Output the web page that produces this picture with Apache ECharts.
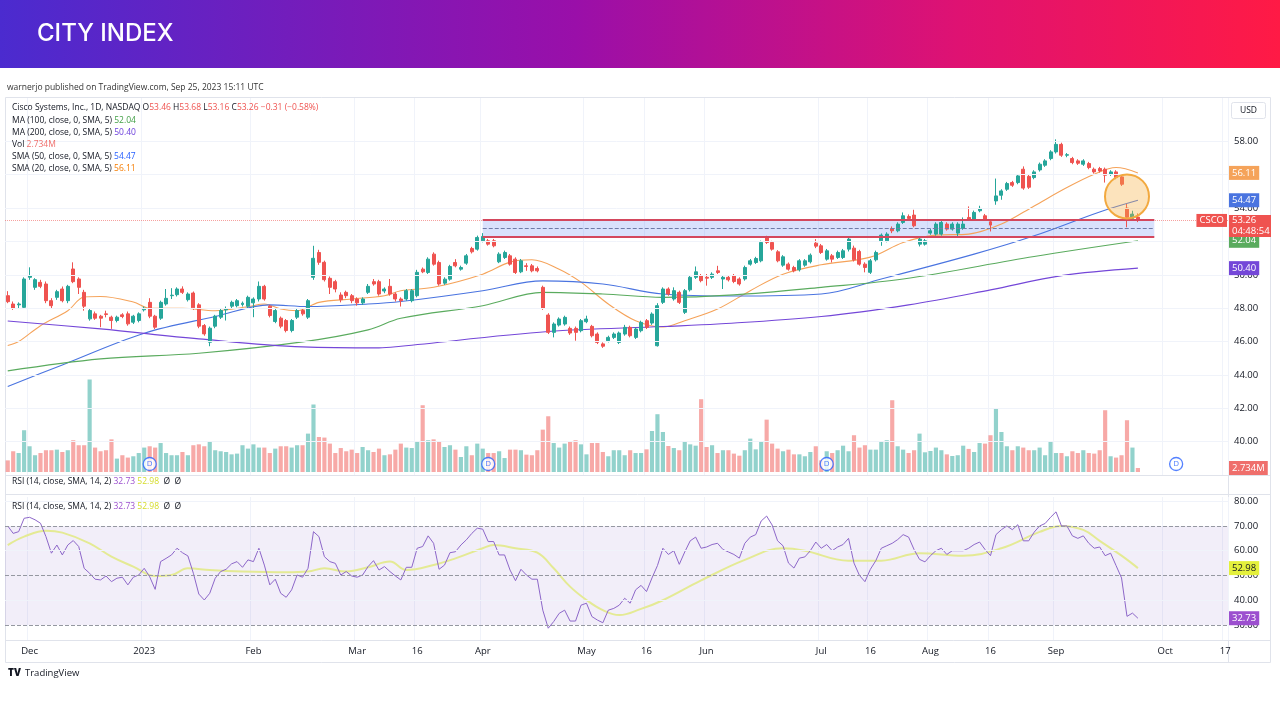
<!DOCTYPE html>
<html>
<head>
<meta charset="utf-8">
<title>CSCO 1D</title>
<style>
html, body { margin: 0; padding: 0; background: #fff; }
#chart { width: 1280px; height: 720px; }
</style>
</head>
<body>
<div id="chart"></div>
<script src="https://cdn.jsdelivr.net/npm/echarts@6/dist/echarts.min.js"></script>
<script>
// trading calendar (NYSE days, incl. the empty future slots on the right)
const firstDay = '2022-11-25';
const lastDay = '2023-10-17';
const holidays = ['2022-12-26', '2023-01-02', '2023-01-16', '2023-02-20', '2023-04-07',
  '2023-05-29', '2023-06-19', '2023-07-04', '2023-09-04'];

// time axis labels
const tickLabels = [['2022-12-01', 'Dec'], ['2023-01-03', '2023'], ['2023-02-01', 'Feb'], ['2023-03-01', 'Mar'],
  ['2023-03-16', '16'], ['2023-04-03', 'Apr'], ['2023-05-01', 'May'], ['2023-05-16', '16'], ['2023-06-01', 'Jun'],
  ['2023-07-03', 'Jul'], ['2023-07-17', '16'], ['2023-08-01', 'Aug'], ['2023-08-16', '16'], ['2023-09-01', 'Sep'],
  ['2023-10-02', 'Oct'], ['2023-10-17', '17']];
const priceLevels = [40, 42, 44, 46, 48, 50, 52, 54, 56, 58];

// daily candles [open, close, low, high]
const ohlc = [
  [48.75,48.39,48.30,49.02],[48.25,47.99,47.90,48.40],[48.20,48.25,47.95,48.35],[48.05,49.75,47.95,49.85],
  [49.85,49.95,49.70,50.45],[49.25,49.71,49.10,49.80],[49.55,49.31,49.20,49.70],[49.45,48.45,48.30,49.60],
  [48.45,48.15,48.00,48.60],[48.65,48.99,48.50,49.10],[49.15,48.45,48.35,49.30],[48.45,49.31,48.30,49.40],
  [50.35,49.59,49.50,50.75],[49.75,49.25,48.85,49.85],[48.95,48.12,47.85,49.10],[47.36,47.86,47.25,48.00],
  [47.66,47.40,47.30,47.80],[47.52,47.40,46.86,47.60],[47.66,47.62,47.45,47.85],[47.46,47.26,46.76,47.55],
  [47.26,47.46,47.15,47.55],[47.60,47.50,47.40,47.70],[47.66,47.06,46.95,47.80],[47.16,47.52,47.05,47.60],
  [47.26,47.66,47.15,47.75],[47.90,48.00,47.80,48.10],[48.35,47.52,47.40,48.60],[47.52,46.86,46.75,47.60],
  [47.40,48.35,47.30,48.45],[48.25,48.59,48.15,49.15],[48.75,48.78,48.55,49.20],[48.81,49.15,48.70,49.25],
  [49.15,48.95,48.85,49.31],[48.51,48.85,48.40,48.95],[48.91,48.02,47.90,49.00],[48.20,46.92,46.80,48.30],
  [46.96,46.46,46.35,47.05],[45.96,46.80,45.72,46.90],[46.92,47.52,46.80,47.60],[47.46,47.86,47.35,47.95],
  [47.90,47.98,47.26,48.10],[48.12,48.35,48.00,48.45],[48.15,48.45,48.05,48.55],[48.22,48.30,48.10,48.40],
  [48.12,48.65,48.00,48.75],[48.32,48.55,47.46,48.65],[48.55,49.31,48.40,49.60],[49.31,48.55,48.45,49.40],
  [48.12,47.56,47.45,48.20],[47.20,47.86,47.10,47.95],[47.40,46.92,46.80,47.50],[47.26,46.66,46.55,47.35],
  [46.66,47.26,46.55,47.35],[47.46,47.86,47.35,47.95],[47.86,47.66,47.55,47.95],[47.46,48.45,47.35,48.55],
  [49.85,50.99,49.70,51.74],[51.34,50.75,50.60,51.50],[50.75,49.71,49.60,50.85],[49.79,49.25,48.85,49.90],
  [49.59,49.15,48.95,49.70],[48.79,48.51,48.35,48.95],[48.95,48.75,48.60,49.05],[48.75,48.45,48.30,48.85],
  [48.55,48.32,48.15,48.65],[48.32,48.55,48.20,48.65],[48.95,49.31,48.85,49.45],[49.59,49.45,49.35,49.75],
  [49.59,48.85,48.75,49.70],[49.03,49.15,48.90,49.25],[49.31,48.85,48.75,49.75],[48.85,48.55,48.40,48.95],
  [48.55,48.45,48.10,48.65],[48.55,49.05,48.45,49.15],[48.45,49.05,48.35,49.15],[48.75,50.15,48.65,50.30],
  [50.34,50.18,50.10,50.44],[50.14,50.94,50.05,51.05],[51.24,50.64,50.55,51.35],[50.74,49.45,49.35,50.85],
  [49.50,49.74,49.40,49.85],[49.74,50.50,49.65,50.60],[50.74,50.54,50.45,50.94],[50.34,50.44,50.25,50.55],
  [50.70,51.14,50.60,51.25],[51.58,51.38,51.28,51.68],[51.54,52.24,51.45,52.35],[52.04,52.30,51.95,52.50],
  [52.04,51.84,51.75,52.15],[52.04,51.74,51.65,52.15],[50.78,51.24,50.70,51.35],[51.04,51.34,50.95,51.45],
  [51.14,50.64,50.55,51.25],[50.94,50.14,50.05,51.05],[50.18,50.84,50.10,50.95],[50.54,50.50,50.24,50.70],
  [50.54,50.24,50.15,50.65],[50.38,50.24,50.15,50.50],[49.25,47.99,47.90,49.35],[47.59,46.55,46.45,47.70],
  [46.55,47.05,46.25,47.15],[46.99,47.35,46.90,47.45],[47.05,47.45,46.95,47.55],[46.79,46.51,46.40,46.90],
  [46.79,46.55,46.05,46.90],[46.65,47.25,46.55,47.35],[47.19,47.35,47.10,47.55],[46.91,46.35,46.25,47.00],
  [46.45,45.95,45.85,46.55],[45.86,45.72,45.62,45.95],[46.05,46.25,45.95,46.35],[46.25,46.45,46.15,46.55],
  [45.95,46.51,45.85,46.60],[46.45,46.85,46.35,47.00],[46.85,46.35,46.25,46.95],[46.25,46.75,46.15,46.85],
  [46.65,47.15,46.55,47.25],[47.25,46.85,46.75,47.35],[47.11,47.65,47.00,47.75],[45.75,48.15,45.70,48.30],
  [48.35,49.15,48.25,49.25],[49.15,48.85,48.75,49.25],[48.55,49.05,48.45,49.25],[48.95,48.35,48.25,49.05],
  [47.75,49.05,47.65,49.15],[49.10,49.85,49.00,49.95],[49.85,50.18,49.75,50.50],[49.95,49.65,49.55,50.05],
  [49.85,49.80,49.35,50.05],[49.85,50.04,49.75,50.15],[50.24,50.14,50.05,50.54],[49.75,49.85,49.15,49.95],
  [49.85,49.70,49.60,49.95],[49.95,49.60,49.50,50.05],[49.75,49.45,49.35,49.85],[49.75,50.44,49.65,50.55],
  [50.64,50.84,50.55,50.95],[50.74,50.98,50.65,51.08],[50.84,51.94,50.75,52.05],[52.24,51.94,51.85,52.34],
  [51.94,51.54,51.45,52.04],[51.38,50.84,50.75,51.48],[50.58,51.08,50.48,51.18],[50.64,50.34,50.25,50.74],
  [50.44,50.24,50.15,50.54],[50.30,50.84,50.20,50.94],[50.58,50.84,50.48,50.94],[50.78,51.18,50.68,51.28],
  [51.90,51.72,51.60,52.14],[51.74,51.34,51.25,51.85],[50.94,51.44,50.85,51.55],[51.14,50.94,50.74,51.25],
  [51.04,51.34,50.95,51.45],[51.04,51.44,50.95,51.55],[51.54,52.14,51.40,52.25],[51.60,50.90,50.80,51.75],
  [51.40,50.64,50.55,51.50],[50.64,50.44,50.15,50.75],[50.15,50.84,50.05,50.95],[50.90,51.34,50.80,51.45],
  [52.04,52.38,51.74,52.48],[52.04,52.44,51.95,52.55],[52.78,52.64,52.50,52.90],[52.64,53.04,52.55,53.15],
  [53.14,53.54,53.05,53.74],[53.50,53.38,53.28,53.62],[53.58,52.94,52.85,53.90],[51.84,52.14,51.70,52.30],
  [51.84,52.04,51.75,52.15],[52.50,52.64,52.40,52.75],[52.44,53.04,52.35,53.15],[52.44,53.14,52.35,53.25],
  [53.04,52.74,52.65,53.15],[52.74,53.04,52.65,53.15],[52.50,53.04,52.30,53.15],[52.78,53.04,52.70,53.44],
  [53.44,53.34,53.25,54.10],[53.34,53.74,53.25,53.85],[53.84,53.98,53.75,54.14],[53.54,53.34,53.25,53.65],
  [53.18,52.98,52.60,53.28],[54.43,54.73,54.20,55.77],[54.77,55.03,54.50,55.13],[55.13,55.47,55.03,55.57],
  [55.53,55.37,55.27,55.63],[55.53,55.93,55.43,56.03],[56.33,55.20,55.10,56.50],[55.90,55.25,55.15,56.00],
  [55.83,56.17,55.73,56.27],[56.29,56.63,56.19,56.73],[56.57,56.83,56.47,56.93],[56.97,57.37,56.87,57.47],
  [57.37,57.82,57.27,58.12],[57.82,57.17,57.07,57.92],[57.17,57.20,57.05,57.30],[56.97,56.73,56.63,57.07],
  [56.83,56.69,56.59,56.93],[56.63,56.83,56.53,56.93],[56.67,56.43,56.33,56.77],[56.33,56.17,56.07,56.43],
  [56.37,56.23,56.13,56.47],[56.33,55.97,55.53,56.43],[56.03,56.17,55.93,56.27],[56.17,55.83,55.73,56.27],
  [55.87,55.43,55.33,55.97],[54.00,53.45,52.85,54.25],[53.38,53.64,53.30,53.84],[53.46,53.26,53.16,53.68]
];

// volume, millions
const volumes = [
  7.9,14.1,12.9,28.4,17.5,11.4,12.9,14.8,14.8,15.2, 13.6,14.8,21.6,18.2,18.2,62.9,16.6,14.1,14.8,22.2,
  9.1,11.4,9.8,10.7,12.9,16.6,17.5,16.6,19.7,12.9, 11.4,11.4,13.6,11.4,18.2,18.8,17.5,20.9,14.8,14.1,
  13.6,12.0,12.5,18.2,15.9,18.8,16.6,16.6,12.9,15.9, 17.5,17.5,16.6,18.2,18.2,26.1,45.9,23.8,23.4,19.3,
  12.9,16.3,14.1,15.2,12.9,17.0,14.8,13.6,15.9,11.4, 12.0,15.2,19.3,16.6,16.3,20.4,45.4,21.6,22.2,20.9,
  17.0,18.2,15.2,10.2,17.5,11.4,19.3,15.9,12.9,12.9, 14.1,9.5,15.2,15.2,14.8,11.8,11.4,14.8,28.8,37.9,
  19.7,16.6,19.3,21.1,21.6,18.8,12.0,19.7,19.7,13.6, 10.7,14.8,14.8,11.4,14.8,12.9,
  12.9,15.4,27.9,39.3,27.2,17.7,16.3,14.8,20.9,18.8, 17.9,49.5,17.0,18.2,12.9,14.8,14.8,12.5,11.1,14.8,
  22.7,15.4,21.1,35.6,19.3,15.9,14.1,15.2,12.0,12.0, 10.7,13.6,17.5,7.9,14.1,12.9,14.8,17.9,14.1,25.0,
  16.6,18.2,15.2,15.2,20.9,21.6,48.8,17.5,15.2,12.9, 14.8,26.1,13.4,14.3,16.6,14.8,12.0,10.9,11.4,17.9,
  15.7,13.6,19.7,19.3,25.0,43.1,27.2,17.5,14.8,17.5, 16.6,14.8,14.8,16.6,11.4,21.1,12.9,12.9,10.7,14.1,
  12.9,14.8,12.9,12.5,14.8,42.0,10.7,9.8,11.4,35.2, 16.6,2.734
];

// moving averages, [bar index, value]
const sma20Pts = [[0,45.76],[2,46.0],[6,46.95],[11,47.85],[14,48.67],[17,48.7],[23,48.37],[26,48.0],[32,48.0],
  [38,47.85],[44,48.09],[47,48.25],[50,47.95],[53,47.85],[57,48.35],[63,48.55],[69,48.75],[72,49.05],[78,49.25],
  [87,50.04],[92,50.76],[96,50.9],[101,50.34],[105,49.56],[110,48.25],[115,47.25],[120,46.87],[124,47.25],
  [130,47.95],[136,49.05],[142,50.04],[149,50.6],[158,51.06],[164,51.94],[170,52.38],[176,52.44],[182,53.04],
  [188,54.13],[194,55.23],[199,56.03],[203,56.43],[207,56.11]];
const sma50Pts = [[0,43.3],[10,44.6],[25,46.5],[38,47.5],[48,48.2],[55,48.1],[66,48.25],[72,48.4],[87,49.05],
  [98,49.64],[109,49.45],[120,48.85],[133,48.73],[149,48.85],[160,49.75],[177,51.24],[188,52.34],[200,53.77],
  [207,54.47]];
const ma100Pts = [[0,44.24],[17,44.96],[35,45.3],[54,45.98],[66,46.7],[72,47.4],[87,48.15],[98,48.95],[109,48.85],
  [120,48.65],[133,48.8],[149,49.25],[164,49.75],[188,51.1],[207,52.04]];
const ma200Pts = [[0,47.23],[17,46.76],[35,46.16],[54,45.68],[68,45.62],[72,45.72],[99,46.6],[120,46.9],
  [130,47.05],[149,47.5],[165,48.2],[180,49.1],[193,49.95],[207,50.4]];

// RSI(14) per bar and its SMA(14)
const rsi = [
  70,67,67.7,73.1,73.5,72.5,71.1,65.7,59.0,62.3, 58.3,62.3,64.1,61.7,52.9,50.9,48.5,48.2,49.8,47.5,
  48.9,49.3,46.2,49.3,50.2,52.9,49.5,44.4,55.6,56.9, 58.3,61.0,59.2,57.9,50.9,42.5,40.1,42.8,48.9,51.6,
  52.5,54.7,55.6,53.3,56.3,55.6,61.0,54.2,46.2,48.5, 42.8,41.2,44.2,50.2,49.3,52.9,67.7,65.7,57.6,55.6,
  54.9,50.2,51.6,49.8,49.3,50.2,53.6,56.0,52.2,53.6, 51.6,49.8,48.2,53.3,53.3,61.0,61.7,66.0,63.0,52.5,
  54.2,59.2,59.6,62.3,64.4,67.0,69.1,68.7,63.7,63.7, 58.3,58.3,52.2,47.9,52.5,50.2,48.5,48.5,36,28.7,
  31.4,34.7,36.0,31.6,31.6,38.0,38.8,33.4,32.0,30.9, 36.0,36.7,38.0,40.8,38.8,44.2,
  46,43.5,49,54,61,58.5,60,54.5,59.5,64, 65.5,61,61.5,62.5,63,60.5,59.5,58.5,57,63,
  65.5,66.5,72,74,70.4,64,62,55,53,57, 57.5,60,63.5,61,62.5,60,61.5,62.5,65,55,
  50,47.5,52.5,56,61,62,63,64.5,66.5,65.5, 60.5,56.5,55.5,58,60,61,58.5,60,60,60,
  61,62.5,63.5,60.5,58,66.5,68.5,70,68.5,70.5, 64,64,67.5,70,71,73.5,75.7,70,70,66,
  65,66,63,61,61.5,58,59,54,49,33.5, 34.8,32.73
];
const rsiSmaPts = [[0,62.3],[3,65.7],[7,68.1],[10,67.3],[15,63.0],[19,57.6],[23,53.6],[27,49.8],[30,50.2],
  [33,52.9],[37,52.2],[43,51.6],[51,51.3],[55,51.6],[58,52.9],[62,51.6],[66,53.3],[70,55.6],[73,52.2],[78,54.2],
  [82,56.9],[87,61.0],[89,62.3],[93,61.0],[97,59.2],[100,52.9],[103,45.5],[106,40.1],[109,36.0],[112,34.0],
  [116,36.5],[120,40],[127,48],[135,56.3],[142,61],[146,60],[154,56],[160,56],[167,59],[175,58],[182,61],
  [189,67.6],[193,70],[197,68.4],[200,64],[204,58],[207,52.98]];
const rsiLevels = [30, 40, 50, 60, 70, 80];
const rsiBands = [30, 50, 70];

// drawings
const zoneFrom = 87, zoneTo = 210;
const zoneTop = 53.33, zoneMid = 52.8, zoneBottom = 52.27;
const circleBar = 205, circlePrice = 54.7;
const dividendDates = ['2023-01-04', '2023-04-04', '2023-07-05', '2023-10-04'];
const countdown = '04:48:54';

const FONT = "'Open Sans', 'Noto Sans', sans-serif";
const TEXT = '#131722';
const GRID = '#f0f3fa';
const CLEAR = 'rgba(0,0,0,0)';
const UP = '#26a69a', DOWN = '#ef5350';
const C20 = '#f5a35a', C50 = '#4a74e0', C100 = '#5aab5e', C200 = '#7447d8';

function tradingDays(from, to, skip) {
  const out = [];
  const d = new Date(from + 'T12:00:00Z');
  const end = new Date(to + 'T12:00:00Z');
  while (d <= end) {
    const s = d.toISOString().slice(0, 10);
    const wd = d.getUTCDay();
    if (wd !== 0 && wd !== 6 && !skip.includes(s)) out.push(s);
    d.setUTCDate(d.getUTCDate() + 1);
  }
  return out;
}

const dates = tradingDays(firstDay, lastDay, holidays);
const labelMap = Object.fromEntries(tickLabels);
const knots = pts => pts.map(p => [dates[p[0]], p[1]]);
const lastOf = pts => pts[pts.length - 1][1];
const last = ohlc.length - 1;
const lastClose = ohlc[last][1];

function tag(value, text, bg, fg) {
  return {
    yAxis: value,
    lineStyle: { color: CLEAR, width: 1 },
    label: {
      show: true, position: 'end', distance: 1, formatter: text,
      backgroundColor: bg, color: fg || '#fff', padding: [2, 3, 1, 3],
      fontSize: 9.5, fontFamily: FONT, lineHeight: 11
    }
  };
}

// price tag with the bar countdown hanging below it
function priceTag(value, bg) {
  const cell = { backgroundColor: bg, color: '#fff', width: 36, height: 11, lineHeight: 11, padding: [0, 3], fontSize: 9.5, fontFamily: FONT };
  return {
    yAxis: value,
    lineStyle: { color: CLEAR, width: 1 },
    label: {
      show: true, position: 'end', distance: 1,
      formatter: '{e| }\n{b|' + value.toFixed(2) + '}\n{b|' + countdown + '}',
      rich: { e: { height: 11, lineHeight: 11, fontSize: 9.5 }, b: cell }
    }
  };
}

function maSeries(name, pts, color, extra) {
  return {
    name: name, type: 'line', xAxisIndex: 0, yAxisIndex: 0,
    data: knots(pts), smooth: 0.35, symbol: 'none', z: 3,
    lineStyle: { color: color, width: 1.1 },
    markLine: {
      symbol: 'none', silent: true,
      data: (extra || []).concat([tag(lastOf(pts), lastOf(pts).toFixed(2), color)])
    }
  };
}

function legendRow(y, parts) {
  const rich = {};
  parts.forEach((p, i) => { rich['s' + i] = { fill: p[1], color: p[1], fontSize: 8.5, fontFamily: FONT }; });
  return {
    type: 'text', x: 12, y: y, z: 10,
    style: { text: parts.map((p, i) => '{s' + i + '|' + p[0] + '}').join(''), rich: rich, verticalAlign: 'middle' }
  };
}

const priceGrid = priceLevels.map(v => ({ yAxis: v, lineStyle: { color: GRID, width: 1, type: 'solid' }, label: { show: false } }));
const rsiLabel = [['RSI (14, close, SMA, 14, 2) ', TEXT], ['32.73 ', '#9c4fcf'], ['52.98 ', '#d5dc2a'], [' \u00d8  \u00d8', TEXT]];

const chart = echarts.init(document.getElementById('chart'), null, { renderer: 'canvas' });

const option = {
  animation: false,
  backgroundColor: '#ffffff',
  textStyle: { fontFamily: FONT },
  grid: [
    { left: 5, right: 52, top: 98, height: 377, containLabel: false, outerBoundsMode: 'none' },
    { left: 5, right: 52, top: 372, height: 100, containLabel: false, outerBoundsMode: 'none' },
    { left: 5, right: 52, top: 497, height: 143, containLabel: false, outerBoundsMode: 'none' }
  ],
  xAxis: [0, 1, 2].map(i => ({
    type: 'category', gridIndex: i, data: dates, boundaryGap: true,
    axisLine: { show: false }, axisTick: { show: false },
    axisLabel: i === 2 ? {
      show: true, margin: 6, color: TEXT, fontSize: 9.5, fontFamily: FONT,
      interval: (idx, v) => v in labelMap, formatter: v => labelMap[v] || ''
    } : { show: false },
    splitLine: i === 1 ? { show: false } : {
      show: true, interval: (idx, v) => v in labelMap, lineStyle: { color: GRID }
    }
  })),
  yAxis: [
    {
      gridIndex: 0, type: 'value', position: 'right', min: 38, max: 60.6, interval: 2,
      axisLine: { show: false }, axisTick: { show: false },
      axisLabel: {
        margin: 6, color: TEXT, fontSize: 9.5, fontFamily: FONT,
        formatter: v => priceLevels.includes(v) ? v.toFixed(2) : ''
      },
      splitLine: { show: false }
    },
    { gridIndex: 1, type: 'value', min: 0, max: 68, show: false },
    { gridIndex: 2, type: 'value', min: 23.94, max: 81.7, show: false }
  ],
  series: [
    {
      name: 'Volume', type: 'bar', xAxisIndex: 1, yAxisIndex: 1, z: 1,
      data: volumes, barWidth: '76%',
      itemStyle: {
        color: p => ohlc[p.dataIndex][1] >= ohlc[p.dataIndex][0] ? 'rgba(38,166,154,0.5)' : 'rgba(239,83,80,0.5)'
      },
      markLine: { symbol: 'none', silent: true, data: [tag(volumes[last], volumes[last].toFixed(3) + 'M', '#ef6f6c')] }
    },
    {
      name: 'Dividends', type: 'scatter', xAxisIndex: 1, yAxisIndex: 1, z: 4, clip: false,
      data: dividendDates.map(d => [d, 0]),
      symbol: 'circle', symbolSize: 13, symbolOffset: [0, -8],
      itemStyle: { color: '#ffffff', borderColor: '#2962ff', borderWidth: 1.3 },
      label: { show: true, position: 'inside', formatter: 'D', color: '#2962ff', fontSize: 8, fontFamily: FONT }
    },
    maSeries('SMA 20', sma20Pts, C20),
    maSeries('SMA 50', sma50Pts, C50),
    maSeries('MA 100', ma100Pts, C100),
    maSeries('MA 200', ma200Pts, C200, priceGrid),
    {
      name: 'CSCO', type: 'candlestick', xAxisIndex: 0, yAxisIndex: 0, z: 4,
      data: ohlc, barWidth: '64%',
      itemStyle: { color: UP, color0: DOWN, borderColor: UP, borderColor0: DOWN, borderWidth: 1 },
      markArea: {
        silent: true,
        itemStyle: { color: 'rgba(82,120,240,0.22)' },
        data: [[{ coord: [dates[zoneFrom], zoneTop] }, { coord: [dates[zoneTo], zoneBottom] }]]
      },
      markLine: {
        symbol: 'none', silent: true,
        data: [
          { yAxis: lastClose, lineStyle: { color: DOWN, type: 'dotted', width: 1, opacity: 0.55 }, label: { show: false } },
          [{ coord: [dates[zoneFrom], zoneTop] }, { coord: [dates[zoneTo], zoneTop], lineStyle: { color: '#d4475d', width: 2, type: 'solid' }, label: { show: false } }],
          [{ coord: [dates[zoneFrom], zoneBottom] }, { coord: [dates[zoneTo], zoneBottom], lineStyle: { color: '#d4475d', width: 2, type: 'solid' }, label: { show: false } }],
          [{ coord: [dates[zoneFrom], zoneMid] }, { coord: [dates[zoneTo], zoneMid], lineStyle: { color: '#6f7ba8', width: 1, type: 'dashed' }, label: { show: false } }],
          {
            yAxis: lastClose, lineStyle: { color: CLEAR, width: 1 },
            label: { show: true, position: 'insideEnd', distance: 1, formatter: 'CSCO', backgroundColor: DOWN, color: '#fff', padding: [2, 3, 1, 3], fontSize: 9.5, fontFamily: FONT }
          },
          priceTag(lastClose, DOWN)
        ]
      },
      markPoint: {
        silent: true,
        data: [{
          coord: [dates[circleBar], circlePrice], symbol: 'circle', symbolSize: 44,
          itemStyle: { color: 'rgba(247,178,70,0.36)', borderColor: '#f2a93f', borderWidth: 2 },
          label: { show: false }
        }]
      }
    },
    {
      name: 'RSI', type: 'line', xAxisIndex: 2, yAxisIndex: 2, z: 3,
      data: rsi, symbol: 'none', lineStyle: { color: '#8d67c9', width: 1 },
      markArea: {
        silent: true, itemStyle: { color: 'rgba(126,87,194,0.1)' },
        data: [[{ yAxis: rsiBands[0] }, { yAxis: rsiBands[2] }]]
      },
      markLine: {
        symbol: 'none', silent: true,
        data: rsiLevels.map(v => ({
          yAxis: v,
          lineStyle: rsiBands.includes(v) ? { color: '#9598a1', type: 'dashed', width: 1 } : { color: GRID, type: 'solid', width: 1 },
          label: { show: true, position: 'end', distance: 6, formatter: v.toFixed(2), color: TEXT, fontSize: 9.5, fontFamily: FONT }
        })).concat([
          tag(lastOf(rsiSmaPts), lastOf(rsiSmaPts).toFixed(2), '#e4f03c', TEXT),
          tag(rsi[last], rsi[last].toFixed(2), '#9c4fcf')
        ])
      }
    },
    {
      name: 'RSI SMA', type: 'line', xAxisIndex: 2, yAxisIndex: 2, z: 2,
      data: knots(rsiSmaPts), smooth: 0.4, symbol: 'none',
      lineStyle: { color: '#e4ea94', width: 2 }
    }
  ],
  graphic: [
    {
      type: 'rect', shape: { x: 0, y: 0, width: 1280, height: 68 }, z: 0,
      style: {
        fill: new echarts.graphic.LinearGradient(0, 0, 1, 0, [
          { offset: 0, color: '#4b2bcf' }, { offset: 0.45, color: '#9a0fa9' },
          { offset: 0.75, color: '#df1272' }, { offset: 1, color: '#ff1a45' }
        ])
      }
    },
    { type: 'text', x: 37, y: 34, style: { text: 'CITY INDEX', fill: '#ffffff', fontSize: 24, fontFamily: 'Inter, Lato, sans-serif', fontWeight: 500, verticalAlign: 'middle' } },
    { type: 'text', x: 7, y: 88, style: { text: 'warnerjo published on TradingView.com, Sep 25, 2023 15:11 UTC', fill: '#333', fontSize: 8.5, fontFamily: FONT, verticalAlign: 'middle' } },
    { type: 'rect', shape: { x: 5.5, y: 97.5, width: 1265, height: 565 }, style: { fill: 'none', stroke: '#e0e3eb', lineWidth: 1 } },
    { type: 'line', shape: { x1: 1228.5, y1: 97, x2: 1228.5, y2: 662 }, style: { stroke: '#e0e3eb', lineWidth: 1 } },
    { type: 'line', shape: { x1: 5, y1: 475.5, x2: 1270, y2: 475.5 }, style: { stroke: '#e0e3eb', lineWidth: 1 } },
    { type: 'line', shape: { x1: 5, y1: 494.5, x2: 1270, y2: 494.5 }, style: { stroke: '#e0e3eb', lineWidth: 1 } },
    { type: 'line', shape: { x1: 5, y1: 640.5, x2: 1270, y2: 640.5 }, style: { stroke: '#e0e3eb', lineWidth: 1 } },
    { type: 'rect', shape: { x: 1231.5, y: 102.5, width: 34, height: 16, r: 2 }, style: { fill: '#fff', stroke: '#e0e3eb', lineWidth: 1 } },
    { type: 'text', x: 1248.5, y: 111, style: { text: 'USD', fill: TEXT, fontSize: 8.5, fontFamily: FONT, align: 'center', verticalAlign: 'middle' } },
    legendRow(108, [['Cisco Systems, Inc., 1D, NASDAQ ', TEXT], ['O', TEXT], ['53.46 ', DOWN], ['H', TEXT], ['53.68 ', DOWN],
      ['L', TEXT], ['53.16 ', DOWN], ['C', TEXT], ['53.26 ', DOWN], ['\u22120.31 (\u22120.58%)', DOWN]]),
    legendRow(121, [['MA (100, close, 0, SMA, 5) ', TEXT], ['52.04', '#43a047']]),
    legendRow(133, [['MA (200, close, 0, SMA, 5) ', TEXT], ['50.40', '#6a3ddb']]),
    legendRow(145, [['Vol ', TEXT], ['2.734M', '#ef6f6c']]),
    legendRow(157, [['SMA (50, close, 0, SMA, 5) ', TEXT], ['54.47', '#2962ff']]),
    legendRow(169, [['SMA (20, close, 0, SMA, 5) ', TEXT], ['56.11', '#f57c00']]),
    legendRow(482, rsiLabel),
    legendRow(507, rsiLabel),
    { type: 'text', x: 8, y: 673, style: { text: 'TV', fill: TEXT, fontSize: 10, fontWeight: 900, fontFamily: FONT, verticalAlign: 'middle' } },
    { type: 'text', x: 25, y: 673, style: { text: 'TradingView', fill: TEXT, fontSize: 9.5, fontFamily: FONT, verticalAlign: 'middle' } }
  ]
};

chart.setOption(option);
window.addEventListener('resize', chart.resize);
</script>
</body>
</html>
